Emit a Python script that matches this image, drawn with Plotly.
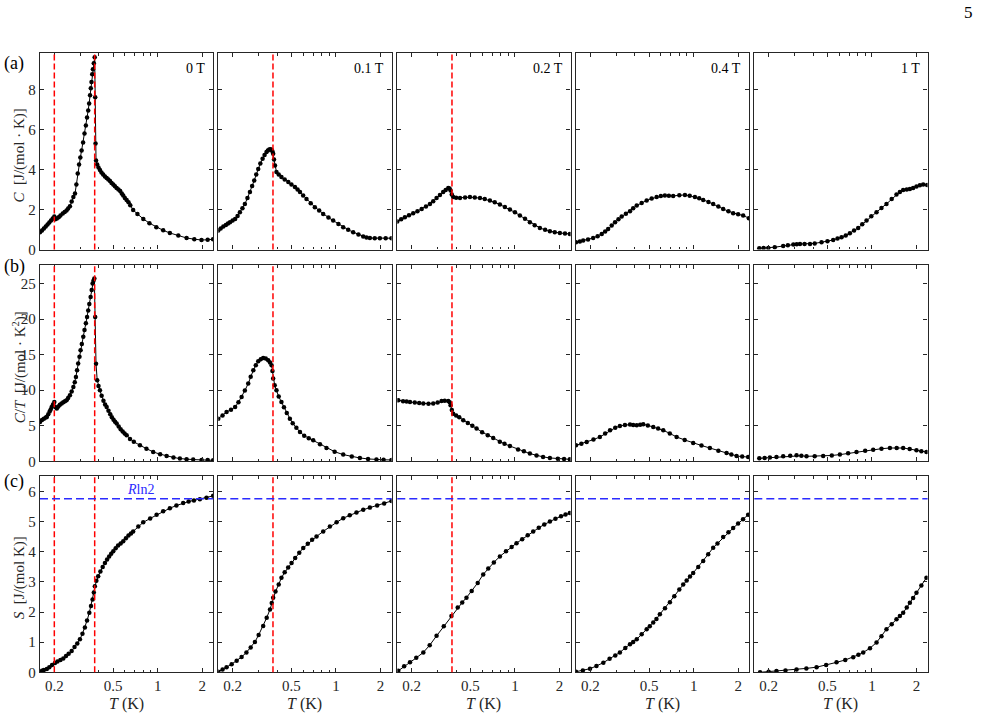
import math
import plotly.graph_objects as go

# ---------------- data ----------------
fields = ["0 T", "0.1 T", "0.2 T", "0.4 T", "1 T"]
panel_tags = ["(a)", "(b)", "(c)"]

# Row 1: C  [J/(mol K)]
T_C_0T = [0.160, 0.165, 0.170, 0.175, 0.180, 0.185, 0.190, 0.195, 0.200, 0.203, 0.208, 0.214, 0.220, 0.228,
          0.235, 0.242, 0.248, 0.255, 0.262, 0.269, 0.276, 0.282, 0.288, 0.294, 0.300, 0.306, 0.313, 0.320,
          0.327, 0.333, 0.339, 0.344, 0.349, 0.353, 0.357, 0.361, 0.365, 0.370, 0.375, 0.378, 0.380, 0.383,
          0.390, 0.398, 0.407, 0.417, 0.428, 0.440, 0.452, 0.464, 0.476, 0.488, 0.501, 0.514, 0.528, 0.543,
          0.558, 0.572, 0.585, 0.600, 0.617, 0.635, 0.653, 0.683, 0.730, 0.800, 0.880, 0.980, 1.090, 1.210,
          1.380, 1.570, 1.770, 1.980, 2.180, 2.370]
C_0T = [0.87, 0.95, 1.05, 1.15, 1.25, 1.35, 1.45, 1.55, 1.65, 1.52, 1.55, 1.62, 1.70, 1.80,
        1.88, 1.95, 2.05, 2.17, 2.40, 2.62, 2.80, 3.25, 3.80, 4.25, 4.60, 4.95, 5.35, 5.80,
        6.20, 6.60, 6.95, 7.30, 7.70, 8.05, 8.37, 8.75, 9.00, 9.30, 9.60, 7.60, 5.30, 4.45,
        4.25, 4.10, 3.98, 3.85, 3.75, 3.65, 3.57, 3.50, 3.42, 3.33, 3.25, 3.16, 3.08, 3.00,
        2.92, 2.80, 2.70, 2.58, 2.48, 2.36, 2.22, 1.98, 1.78, 1.53, 1.32, 1.12, 0.96, 0.83,
        0.70, 0.58, 0.52, 0.48, 0.49, 0.52]

T_C_01T = [0.160, 0.166, 0.173, 0.180, 0.186, 0.192, 0.200, 0.208, 0.216, 0.224, 0.233, 0.242, 0.252, 0.262,
           0.271, 0.280, 0.289, 0.298, 0.308, 0.319, 0.329, 0.339, 0.346, 0.354, 0.360, 0.367, 0.372, 0.376,
           0.381, 0.387, 0.396, 0.410, 0.428, 0.450, 0.476, 0.500, 0.528, 0.550, 0.571, 0.600, 0.632, 0.675,
           0.720, 0.770, 0.820, 0.890, 0.958, 1.040, 1.120, 1.210, 1.308, 1.420, 1.529, 1.610, 1.697, 1.830,
           1.983, 2.170, 2.374]
C_01T = [0.95, 1.05, 1.15, 1.23, 1.30, 1.37, 1.45, 1.53, 1.68, 1.87, 2.07, 2.28, 2.57, 2.87,
         3.17, 3.45, 3.75, 4.03, 4.30, 4.53, 4.72, 4.87, 4.95, 5.00, 5.01, 4.98, 4.90, 4.78,
         4.50, 4.20, 3.87, 3.75, 3.62, 3.50, 3.37, 3.25, 3.12, 3.00, 2.87, 2.70, 2.53, 2.32,
         2.12, 1.95, 1.78, 1.60, 1.45, 1.28, 1.12, 0.99, 0.87, 0.75, 0.65, 0.60, 0.58, 0.57,
         0.57, 0.57, 0.57]

T_C_02T = [0.160, 0.170, 0.180, 0.192, 0.205, 0.219, 0.234, 0.250, 0.266, 0.280, 0.295, 0.311, 0.327, 0.340,
           0.354, 0.361, 0.367, 0.374, 0.382, 0.400, 0.425, 0.460, 0.496, 0.535, 0.580, 0.625, 0.677, 0.730,
           0.791, 0.855, 0.925, 1.000, 1.080, 1.170, 1.262, 1.360, 1.475, 1.600, 1.724, 1.860, 2.013, 2.180,
           2.352]
C_02T = [1.40, 1.51, 1.62, 1.72, 1.82, 1.92, 2.03, 2.15, 2.28, 2.42, 2.58, 2.72, 2.87, 2.98,
         3.07, 3.05, 2.95, 2.75, 2.62, 2.59, 2.58, 2.60, 2.62, 2.60, 2.57, 2.52, 2.45, 2.36,
         2.25, 2.13, 2.00, 1.86, 1.70, 1.54, 1.37, 1.22, 1.08, 0.99, 0.92, 0.87, 0.83, 0.80,
         0.78]

T_C_04T = [0.160, 0.170, 0.179, 0.193, 0.209, 0.224, 0.239, 0.252, 0.264, 0.279, 0.294, 0.310, 0.326, 0.348,
           0.371, 0.390, 0.412, 0.445, 0.481, 0.520, 0.562, 0.600, 0.639, 0.680, 0.727, 0.800, 0.873, 0.940,
           1.020, 1.090, 1.161, 1.260, 1.356, 1.470, 1.585, 1.720, 1.851, 2.000, 2.163, 2.363]
C_04T = [0.37, 0.41, 0.45, 0.51, 0.58, 0.67, 0.78, 0.90, 1.03, 1.20, 1.37, 1.52, 1.65, 1.79,
         1.92, 2.06, 2.20, 2.33, 2.45, 2.55, 2.62, 2.67, 2.70, 2.69, 2.68, 2.71, 2.73, 2.69,
         2.62, 2.56, 2.48, 2.38, 2.28, 2.15, 2.03, 1.91, 1.82, 1.76, 1.70, 1.57]

T_C_1T = [0.173, 0.185, 0.199, 0.220, 0.251, 0.270, 0.294, 0.310, 0.326, 0.350, 0.381, 0.410, 0.456, 0.500,
          0.547, 0.585, 0.623, 0.665, 0.709, 0.757, 0.807, 0.860, 0.919, 0.990, 1.074, 1.160, 1.254, 1.360,
          1.466, 1.545, 1.627, 1.720, 1.806, 1.900, 2.001, 2.110, 2.221, 2.363]
C_1T = [0.07, 0.075, 0.08, 0.12, 0.18, 0.22, 0.25, 0.27, 0.28, 0.28, 0.28, 0.31, 0.37, 0.42,
        0.48, 0.55, 0.62, 0.71, 0.82, 0.95, 1.08, 1.26, 1.45, 1.66, 1.87, 2.08, 2.28, 2.52,
        2.75, 2.88, 2.98, 3.00, 3.02, 3.08, 3.15, 3.21, 3.25, 3.22]

# Row 2: C/T  [J/(mol K^2)]
T_CT_0T = [0.160, 0.165, 0.170, 0.175, 0.178, 0.182, 0.186, 0.189, 0.192, 0.196, 0.200, 0.204, 0.208, 0.213,
           0.218, 0.224, 0.230, 0.236, 0.242, 0.248, 0.255, 0.262, 0.269, 0.275, 0.280, 0.285, 0.290, 0.296,
           0.301, 0.307, 0.314, 0.320, 0.327, 0.333, 0.339, 0.345, 0.352, 0.358, 0.363, 0.368, 0.373, 0.378,
           0.383, 0.390, 0.398, 0.407, 0.418, 0.430, 0.441, 0.452, 0.465, 0.478, 0.490, 0.503, 0.515, 0.528,
           0.545, 0.562, 0.580, 0.598, 0.617, 0.650, 0.690, 0.759, 0.840, 0.933, 1.040, 1.150, 1.280, 1.414,
           1.570, 1.740, 1.983, 2.180, 2.374]
CT_0T = [5.53, 5.80, 6.00, 6.15, 6.23, 6.60, 7.00, 7.30, 7.64, 8.00, 8.34, 7.60, 7.41, 7.70,
         7.95, 8.11, 8.30, 8.45, 8.58, 8.90, 9.28, 9.80, 10.45, 11.1, 11.86, 12.8, 13.74, 14.7,
         15.6, 16.5, 17.5, 18.45, 19.4, 20.3, 21.2, 22.1, 23.1, 24.1, 25.0, 25.4, 25.7, 20.3,
         13.7, 11.4, 10.6, 10.0, 9.2, 8.5, 8.0, 7.64, 7.1, 6.6, 6.2, 5.85, 5.55, 5.30,
         4.90, 4.50, 4.20, 3.90, 3.66, 3.15, 2.75, 2.25, 1.75, 1.31, 1.00, 0.75, 0.55, 0.38,
         0.29, 0.24, 0.20, 0.17, 0.14]

T_CT_01T = [0.160, 0.171, 0.182, 0.195, 0.208, 0.219, 0.230, 0.242, 0.255, 0.265, 0.276, 0.287, 0.298, 0.310,
            0.322, 0.335, 0.348, 0.358, 0.367, 0.372, 0.376, 0.385, 0.396, 0.410, 0.428, 0.445, 0.465, 0.488,
            0.510, 0.540, 0.571, 0.610, 0.655, 0.702, 0.780, 0.863, 0.980, 1.120, 1.280, 1.452, 1.650, 1.880,
            2.100, 2.374]
CT_01T = [6.00, 6.45, 6.93, 7.25, 7.64, 8.30, 9.04, 9.95, 10.93, 11.9, 12.8, 13.5, 14.06, 14.35,
          14.53, 14.45, 14.2, 13.9, 13.5, 12.7, 11.63, 10.7, 9.99, 9.10, 8.34, 7.60, 6.80, 6.00,
          5.35, 4.70, 4.12, 3.60, 3.25, 2.95, 2.40, 1.87, 1.35, 0.94, 0.67, 0.47, 0.33, 0.24,
          0.21, 0.19]

T_CT_02T = [0.1625, 0.175, 0.185, 0.195, 0.210, 0.225, 0.240, 0.260, 0.280, 0.300, 0.319, 0.335, 0.354, 0.362,
            0.367, 0.374, 0.382, 0.400, 0.420, 0.447, 0.480, 0.515, 0.550, 0.600, 0.655, 0.713, 0.790, 0.850,
            0.925, 1.050, 1.150, 1.262, 1.400, 1.550, 1.724, 1.950, 2.150, 2.352]
CT_02T = [8.58, 8.46, 8.40, 8.34, 8.25, 8.18, 8.11, 8.10, 8.11, 8.25, 8.48, 8.52, 8.48, 8.30,
          7.88, 7.20, 6.70, 6.45, 6.20, 5.77, 5.40, 5.00, 4.60, 4.10, 3.68, 3.28, 2.75, 2.45,
          2.15, 1.65, 1.40, 1.08, 0.80, 0.62, 0.47, 0.36, 0.31, 0.28]

T_CT_04T = [0.160, 0.174, 0.189, 0.210, 0.232, 0.252, 0.272, 0.295, 0.317, 0.343, 0.371, 0.390, 0.412, 0.435,
            0.456, 0.490, 0.533, 0.575, 0.623, 0.690, 0.767, 0.870, 0.993, 1.130, 1.288, 1.470, 1.670, 1.800,
            1.952, 2.130, 2.337]
CT_04T = [2.25, 2.48, 2.72, 3.05, 3.42, 3.90, 4.36, 4.72, 4.97, 5.09, 5.16, 5.12, 5.06, 5.15,
          5.20, 5.05, 4.82, 4.60, 4.36, 3.92, 3.42, 3.00, 2.58, 2.22, 1.87, 1.50, 1.17, 0.95,
          0.75, 0.66, 0.60]

T_CT_1T = [0.173, 0.188, 0.204, 0.226, 0.251, 0.280, 0.309, 0.333, 0.361, 0.410, 0.468, 0.535, 0.607, 0.690,
           0.786, 0.900, 1.020, 1.160, 1.323, 1.470, 1.627, 1.800, 2.001, 2.160, 2.337]
CT_1T = [0.42, 0.47, 0.52, 0.61, 0.70, 0.78, 0.84, 0.78, 0.70, 0.72, 0.75, 0.82, 0.94, 1.12,
         1.31, 1.48, 1.64, 1.77, 1.87, 1.88, 1.87, 1.72, 1.55, 1.42, 1.31]

# Row 3: S  [J/(mol K)]
T_S_0T = [0.160, 0.165, 0.170, 0.178, 0.185, 0.193, 0.202, 0.210, 0.220, 0.230, 0.240, 0.250, 0.262, 0.274,
          0.286, 0.298, 0.310, 0.322, 0.333, 0.345, 0.354, 0.363, 0.370, 0.376, 0.385, 0.396, 0.410, 0.425,
          0.440, 0.455, 0.470, 0.485, 0.501, 0.520, 0.540, 0.562, 0.585, 0.610, 0.635, 0.660, 0.683, 0.740,
          0.799, 0.890, 0.984, 1.090, 1.210, 1.340, 1.489, 1.620, 1.760, 1.931, 2.140, 2.374]
S_0T = [0.02, 0.05, 0.08, 0.11, 0.17, 0.24, 0.31, 0.36, 0.41, 0.46, 0.54, 0.62, 0.71, 0.84,
        0.96, 1.10, 1.28, 1.49, 1.72, 1.98, 2.20, 2.42, 2.65, 2.86, 3.04, 3.19, 3.35, 3.50,
        3.63, 3.75, 3.85, 3.94, 4.02, 4.12, 4.21, 4.28, 4.35, 4.45, 4.54, 4.61, 4.68, 4.84,
        4.98, 5.11, 5.23, 5.35, 5.45, 5.54, 5.62, 5.67, 5.71, 5.75, 5.80, 5.86]

T_S_01T = [0.160, 0.171, 0.182, 0.197, 0.213, 0.230, 0.248, 0.265, 0.283, 0.300, 0.322, 0.340, 0.358, 0.368,
           0.376, 0.390, 0.410, 0.428, 0.450, 0.475, 0.501, 0.530, 0.565, 0.601, 0.645, 0.690, 0.739, 0.820,
           0.910, 1.010, 1.120, 1.240, 1.377, 1.530, 1.697, 1.900, 2.120, 2.374]
S_01T = [0.02, 0.09, 0.17, 0.27, 0.38, 0.51, 0.66, 0.82, 1.01, 1.24, 1.54, 1.81, 2.09, 2.30,
         2.48, 2.68, 2.92, 3.14, 3.32, 3.48, 3.63, 3.80, 3.97, 4.13, 4.27, 4.40, 4.51, 4.68,
         4.84, 4.98, 5.12, 5.22, 5.31, 5.40, 5.47, 5.54, 5.61, 5.69]

T_S_02T = [0.1625, 0.178, 0.195, 0.215, 0.240, 0.265, 0.295, 0.330, 0.372, 0.410, 0.440, 0.470, 0.510, 0.560,
           0.610, 0.660, 0.720, 0.791, 0.870, 0.950, 1.025, 1.120, 1.220, 1.329, 1.450, 1.580, 1.724, 1.880,
           2.050, 2.200, 2.352]
S_02T = [0.05, 0.20, 0.33, 0.48, 0.66, 0.90, 1.21, 1.53, 1.87, 2.15, 2.32, 2.48, 2.70, 2.97,
         3.25, 3.45, 3.65, 3.85, 4.02, 4.16, 4.29, 4.42, 4.55, 4.68, 4.80, 4.91, 5.01, 5.10,
         5.18, 5.24, 5.29]

T_S_04T = [0.160, 0.178, 0.199, 0.220, 0.245, 0.270, 0.295, 0.317, 0.345, 0.371, 0.390, 0.412, 0.445, 0.481,
           0.505, 0.533, 0.560, 0.591, 0.640, 0.691, 0.740, 0.800, 0.850, 0.897, 0.945, 0.993, 1.075, 1.161,
           1.255, 1.356, 1.450, 1.585, 1.720, 1.851, 2.000, 2.160, 2.337]
S_04T = [0.02, 0.06, 0.12, 0.21, 0.32, 0.45, 0.56, 0.66, 0.81, 0.93, 1.01, 1.10, 1.26, 1.43,
         1.53, 1.65, 1.77, 1.93, 2.13, 2.33, 2.53, 2.75, 2.92, 3.05, 3.18, 3.30, 3.50, 3.70,
         3.92, 4.14, 4.28, 4.49, 4.65, 4.79, 4.94, 5.08, 5.23]

T_S_1T = [0.175, 0.200, 0.226, 0.260, 0.309, 0.360, 0.422, 0.490, 0.576, 0.660, 0.747, 0.810, 0.873, 0.970,
          1.074, 1.160, 1.254, 1.360, 1.466, 1.545, 1.627, 1.720, 1.806, 1.900, 2.001, 2.160, 2.337]
S_1T = [0.00, 0.02, 0.04, 0.06, 0.09, 0.13, 0.17, 0.24, 0.33, 0.41, 0.50, 0.58, 0.66, 0.80,
        0.99, 1.20, 1.43, 1.60, 1.76, 1.87, 1.98, 2.15, 2.31, 2.47, 2.64, 2.88, 3.14]

# transition temperatures (red dashed) per field, and R ln2
Tc_lines = [[0.2, 0.375], [0.375], [0.375], [], []]
R_LN2 = 8.314 * math.log(2)

x_tickvals = [0.2, 0.5, 1, 2]
x_ticktext = ["0.2", "0.5", "1", "2"]
x_minor = [0.3, 0.4, 0.6, 0.7, 0.8, 0.9]
T_range = [0.16, 2.38]
y_ranges = [[0, 9.8], [0, 27.6], [0, 6.52]]
y_tickvals = [[0, 2, 4, 6, 8], [0, 5, 10, 15, 20, 25], [0, 1, 2, 3, 4, 5, 6]]

rows = [
    [(T_C_0T, C_0T), (T_C_01T, C_01T), (T_C_02T, C_02T), (T_C_04T, C_04T), (T_C_1T, C_1T)],
    [(T_CT_0T, CT_0T), (T_CT_01T, CT_01T), (T_CT_02T, CT_02T), (T_CT_04T, CT_04T), (T_CT_1T, CT_1T)],
    [(T_S_0T, S_0T), (T_S_01T, S_01T), (T_S_02T, S_02T), (T_S_04T, S_04T), (T_S_1T, S_1T)],
]

# ---------------- layout geometry (pixels) ----------------
W, H = 981, 719
col_left = [40, 218.3, 397.3, 576, 754.3]
col_w = 173.3
row_top = [53.3, 265, 476]
row_h = 196.3
tag_y = [64, 266, 481]
FONT = "Liberation Serif"
AX = "#262626"

def px_x(p):
    return p / W

def px_y(p):
    return 1 - p / H

def note(text, x, y, size, color=AX, **kw):
    d = dict(text=text, xref="paper", yref="paper", x=px_x(x), y=px_y(y), showarrow=False,
             xanchor="center", yanchor="middle", font=dict(family=FONT, size=size, color=color))
    d.update(kw)
    return d

fig = go.Figure()
layout = dict(
    width=W, height=H, margin=dict(l=0, r=0, t=0, b=0),
    paper_bgcolor="white", plot_bgcolor="white", showlegend=False,
    font=dict(family=FONT, size=14, color=AX),
)
shapes = []
annotations = []

for r in range(3):
    for c in range(5):
        k = r * 5 + c + 1
        sfx = "" if k == 1 else str(k)
        T, V = rows[r][c]
        fig.add_trace(go.Scatter(
            x=T, y=V, xaxis="x" + sfx, yaxis="y" + sfx, mode="lines+markers",
            line=dict(color="black", width=1), marker=dict(size=4.5, color="black"),
            hoverinfo="skip"))
        x0 = col_left[c]
        y0 = row_top[r]
        layout["xaxis" + sfx] = dict(
            domain=[px_x(x0), px_x(x0 + col_w)], anchor="y" + sfx, type="log",
            range=[math.log10(T_range[0]), math.log10(T_range[1])],
            tickmode="array", tickvals=x_tickvals, ticktext=x_ticktext,
            showticklabels=(r == 2), ticks="inside", ticklen=4, tickwidth=1, tickcolor=AX,
            minor=dict(tickmode="array", tickvals=x_minor, ticks="inside", ticklen=2.5, tickcolor=AX),
            mirror="allticks", showline=True, linecolor=AX, linewidth=1.3,
            showgrid=False, zeroline=False, automargin=False,
            tickfont=dict(family=FONT, size=15, color=AX))
        layout["yaxis" + sfx] = dict(
            domain=[px_y(y0 + row_h), px_y(y0)], anchor="x" + sfx,
            range=y_ranges[r], tickmode="array", tickvals=y_tickvals[r],
            showticklabels=(c == 0), ticks="inside", ticklen=4, tickwidth=1, tickcolor=AX,
            mirror="allticks", showline=True, linecolor=AX, linewidth=1.3,
            showgrid=False, zeroline=False, automargin=False,
            tickfont=dict(family=FONT, size=15, color=AX))
        for tc in Tc_lines[c]:
            shapes.append(dict(type="line", xref="x" + sfx, yref="y" + sfx + " domain",
                               x0=tc, x1=tc, y0=0, y1=1,
                               line=dict(color="#ff0000", width=1.5, dash="6px,3px"), layer="above"))
        if r == 2:
            shapes.append(dict(type="line", xref="x" + sfx + " domain", yref="y" + sfx,
                               x0=0, x1=1, y0=R_LN2, y1=R_LN2,
                               line=dict(color="#2b2bff", width=1.5, dash="8px,4px"), layer="above"))
            annotations.append(note("<i>T</i> (K)", x0 + col_w / 2, 704, 16))
        if r == 0:
            annotations.append(note(fields[c], x0 + col_w - 6, 68, 14, "black", xanchor="right"))

# R ln2 label
annotations.append(dict(text="<i>R</i>ln2", xref="x11", yref="y11", x=math.log10(0.76), y=R_LN2,
                        xanchor="center", yanchor="bottom", showarrow=False,
                        font=dict(family=FONT, size=14, color="#2b2bff")))

# y-axis titles and panel tags
ytitles = ["<i>C</i>  [J/(mol · K)]", "<i>C</i>/<i>T</i>  [J/(mol · K<sup>2</sup>)]", "<i>S</i>  [J/(mol K)]"]
for r in range(3):
    annotations.append(note(ytitles[r], 19, row_top[r] + row_h / 2 + 4, 15, textangle=-90))
    annotations.append(note(panel_tags[r], 14, tag_y[r], 18, "black"))

annotations.append(note("5", 968, 13, 17, "black"))

layout["shapes"] = shapes
layout["annotations"] = annotations
fig.update_layout(**layout)
fig.write_html("out.html")
